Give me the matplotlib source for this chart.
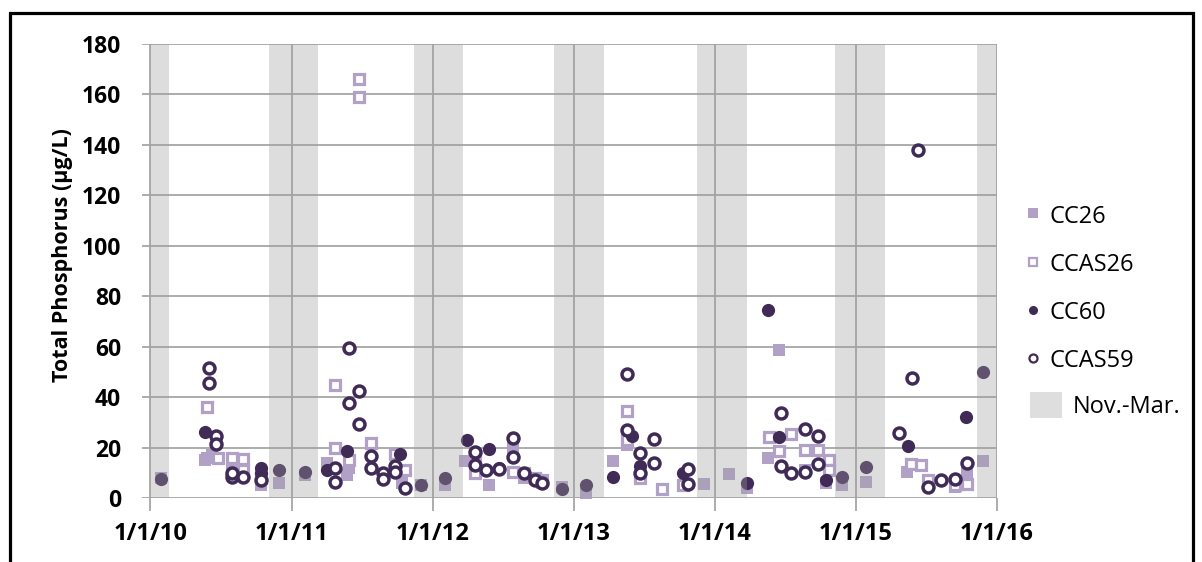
import matplotlib
matplotlib.use("Agg")
import matplotlib.pyplot as plt
from matplotlib.lines import Line2D
from matplotlib.patches import Patch, Rectangle
import pandas as pd

# ---------------- data ----------------
cc26_dates = ["2010-01-28", "2010-05-22", "2010-05-27", "2010-06-08", "2010-07-31", "2010-10-14",
              "2010-11-29", "2011-02-05", "2011-04-03", "2011-05-24", "2011-05-29", "2011-08-25",
              "2011-10-14", "2011-12-03", "2012-02-01", "2012-03-26", "2012-05-25", "2012-07-26",
              "2012-08-26", "2012-10-11", "2012-12-02", "2013-01-31", "2013-04-12", "2013-05-18",
              "2013-06-20", "2013-10-10", "2013-12-03", "2014-02-06", "2014-03-24", "2014-05-18",
              "2014-06-15", "2014-08-23", "2014-10-16", "2014-11-27", "2015-01-28", "2015-05-14",
              "2015-09-15", "2015-10-16", "2015-11-26"]
cc26_vals = [8, 15, 16, 17, 12, 5,
             6, 9, 14, 9, 12, 8,
             6, 5, 5, 14.5, 5, 20,
             8, 6, 4.5, 1.5, 14.5, 21,
             8, 5, 5.5, 9.5, 4, 16,
             58.5, 11, 6, 5, 6.5, 10.5,
             4.5, 10, 14.5]

ccas26_dates = ["2010-05-27", "2010-06-25", "2010-07-31", "2010-08-28", "2010-08-28", "2010-10-14",
                "2011-04-23", "2011-04-23", "2011-05-29", "2011-06-24", "2011-06-24", "2011-07-25",
                "2011-09-25", "2011-10-23", "2012-04-21", "2012-04-21", "2012-07-26", "2012-08-26",
                "2012-09-21", "2012-10-11", "2013-05-18", "2013-05-18", "2013-06-20", "2013-08-16",
                "2013-10-10", "2014-05-22", "2014-06-15", "2014-07-18", "2014-08-23", "2014-09-25",
                "2014-10-24", "2014-10-24", "2015-05-24", "2015-06-18", "2015-07-06", "2015-09-15",
                "2015-10-16"]
ccas26_vals = [36, 16, 16, 15.5, 11, 8,
               45, 20, 15, 166, 159, 22,
               17.5, 11, 17, 10, 10.5, 10,
               8, 7, 34.5, 23, 8, 3.5,
               5, 24, 18.5, 25.5, 19, 19,
               15, 11, 13.5, 13, 7, 5,
               5.5]

cc60_dates = ["2010-01-28", "2010-05-22", "2010-07-31", "2010-10-14", "2010-10-14", "2010-11-29",
              "2011-02-05", "2011-04-03", "2011-05-24", "2011-10-10", "2011-12-03", "2012-02-01",
              "2012-03-31", "2012-05-25", "2012-06-22", "2012-08-26", "2012-10-11", "2012-12-02",
              "2013-01-31", "2013-04-12", "2013-05-31", "2013-06-20", "2013-10-10", "2014-03-24",
              "2014-05-18", "2014-06-15", "2014-07-18", "2014-10-16", "2014-11-27", "2015-01-28",
              "2015-05-16", "2015-10-13", "2015-11-26"]
cc60_vals = [7.5, 26, 10, 12, 10, 11,
             10.5, 11, 18.5, 17.5, 5, 8,
             23, 19.5, 12, 10, 6, 3.5,
             5, 8.5, 24.5, 12.5, 10, 6,
             74.5, 24.3, 10, 7, 8.5, 12.3,
             20.6, 32, 50]

ccas59_dates = ["2010-06-01", "2010-06-01", "2010-06-19", "2010-06-19", "2010-07-31", "2010-07-31",
                "2010-08-28", "2010-10-14", "2011-04-23", "2011-04-23", "2011-05-29", "2011-05-29",
                "2011-06-24", "2011-06-24", "2011-07-25", "2011-07-25", "2011-08-25", "2011-08-25",
                "2011-09-25", "2011-09-25", "2011-10-23", "2012-04-21", "2012-04-21", "2012-05-18",
                "2012-06-22", "2012-07-26", "2012-07-26", "2012-08-26", "2012-09-21", "2012-10-11",
                "2013-05-18", "2013-05-18", "2013-06-20", "2013-06-20", "2013-07-27", "2013-07-27",
                "2013-10-22", "2013-10-22", "2014-06-20", "2014-06-20", "2014-07-18", "2014-08-23",
                "2014-08-23", "2014-09-25", "2014-09-25", "2015-04-23", "2015-05-27", "2015-06-11",
                "2015-07-06", "2015-08-09", "2015-09-15", "2015-10-16"]
ccas59_vals = [51.5, 45.5, 24.5, 21.5, 8.5, 10,
               8.5, 7, 12, 6.5, 59.5, 37.5,
               42.5, 29.5, 16.7, 12, 10, 7.5,
               12.5, 10.5, 4, 18.4, 13, 11,
               11.5, 23.7, 16.4, 10, 7, 6,
               49, 27, 18, 10, 23.5, 14,
               11.5, 5.5, 33.8, 12.8, 10, 27.4,
               10.5, 24.6, 13.5, 25.6, 47.5, 138,
               4.3, 7, 7.6, 14]

band_starts = ["2010-01-01", "2010-11-04", "2011-11-13", "2012-11-11", "2013-11-16", "2014-11-08", "2015-11-11"]
band_ends = ["2010-02-18", "2011-03-11", "2012-03-19", "2013-03-19", "2014-03-24", "2015-03-17", "2016-03-15"]

year_ticks = ["2010-01-01", "2011-01-01", "2012-01-01", "2013-01-01", "2014-01-01", "2015-01-01", "2016-01-01"]
year_labels = ["1/1/10", "1/1/11", "1/1/12", "1/1/13", "1/1/14", "1/1/15", "1/1/16"]
y_ticks = [0, 20, 40, 60, 80, 100, 120, 140, 160, 180]

series_labels = ["CC26", "CCAS26", "CC60", "CCAS59"]
band_label = "Nov.-Mar."

# ---------------- style ----------------
plt.rcParams['font.family'] = ['Open Sans', 'DejaVu Sans']
light = "#b2a1c7"
dark = "#3f2b56"
gridc = "#a6a6a6"

fig = plt.figure(figsize=(12.02, 5.62), dpi=100)
ax = fig.add_axes([142 / 1202, 1 - 498 / 562, (997 - 142) / 1202, (498 - 44) / 562])

td = lambda s: pd.to_datetime(s)

ms = 9.2
ax.plot(td(cc26_dates), cc26_vals, ls="none", marker="s", ms=ms, mfc=light, mec=light, mew=0, zorder=3)
ax.plot(td(ccas26_dates), ccas26_vals, ls="none", marker="s", ms=ms - 1.6, mfc="white", mec=light, mew=2.3, zorder=4)
ax.plot(td(cc60_dates), cc60_vals, ls="none", marker="o", ms=ms + 0.3, mfc=dark, mec=dark, mew=0, zorder=5)
ax.plot(td(ccas59_dates), ccas59_vals, ls="none", marker="o", ms=ms - 1.3, mfc="white", mec=dark, mew=2.5, zorder=6)

for s, e in zip(band_starts, band_ends):
    ax.axvspan(td(s), td(e), color="#9f9f9f", alpha=0.345, lw=0, zorder=7)

ax.set_xlim(td("2009-12-10"), td("2016-01-01"))
ax.set_ylim(0, 180)
ax.set_yticks(y_ticks)
ax.set_xticks(td(year_ticks))
ax.set_xticklabels(year_labels)

ax.grid(True, color=gridc, lw=1.3, zorder=1)
ax.set_axisbelow(True)
for sp in ax.spines.values():
    sp.set_visible(False)
ax.tick_params(axis="y", length=0, pad=15, labelsize=16.5)
ax.tick_params(axis="x", length=9, width=1.3, color=gridc, pad=8, labelsize=17)
for lab in ax.get_xticklabels() + ax.get_yticklabels():
    lab.set_fontweight("bold")

ax.set_ylabel("Total Phosphorus (µg/L)", fontsize=15.5, fontweight="bold")
ax.yaxis.set_label_coords(-0.081, 0.535)

handles = [
    Line2D([], [], ls="none", marker="s", ms=6.5, mfc=light, mec=light, mew=0),
    Line2D([], [], ls="none", marker="s", ms=5.8, mfc="white", mec=light, mew=1.6),
    Line2D([], [], ls="none", marker="o", ms=6.5, mfc=dark, mec=dark, mew=0),
    Line2D([], [], ls="none", marker="o", ms=5.8, mfc="white", mec=dark, mew=1.6),
]
leg1 = fig.legend(handles, series_labels, loc="upper left", bbox_to_anchor=(1024 / 1202, 1 - 204 / 562),
                  frameon=False, fontsize=17, handlelength=0.8, handleheight=1.0,
                  handletextpad=0.3, labelspacing=1.0, borderaxespad=0, borderpad=0)
leg2 = fig.legend([Patch(facecolor="#dedede", edgecolor="none")], [band_label], loc="upper left",
                  bbox_to_anchor=(1030 / 1202, 1 - 392 / 562),
                  frameon=False, fontsize=17, handlelength=1.35, handleheight=1.3,
                  handletextpad=0.45, borderaxespad=0, borderpad=0)

fig.patches.append(Rectangle((9.5 / 1202, -0.05), (1193 - 9.5) / 1202, 1.05 - 13 / 562,
                             transform=fig.transFigure, fill=False, ec="black", lw=2.3))

fig.savefig("out.png", dpi=100)
